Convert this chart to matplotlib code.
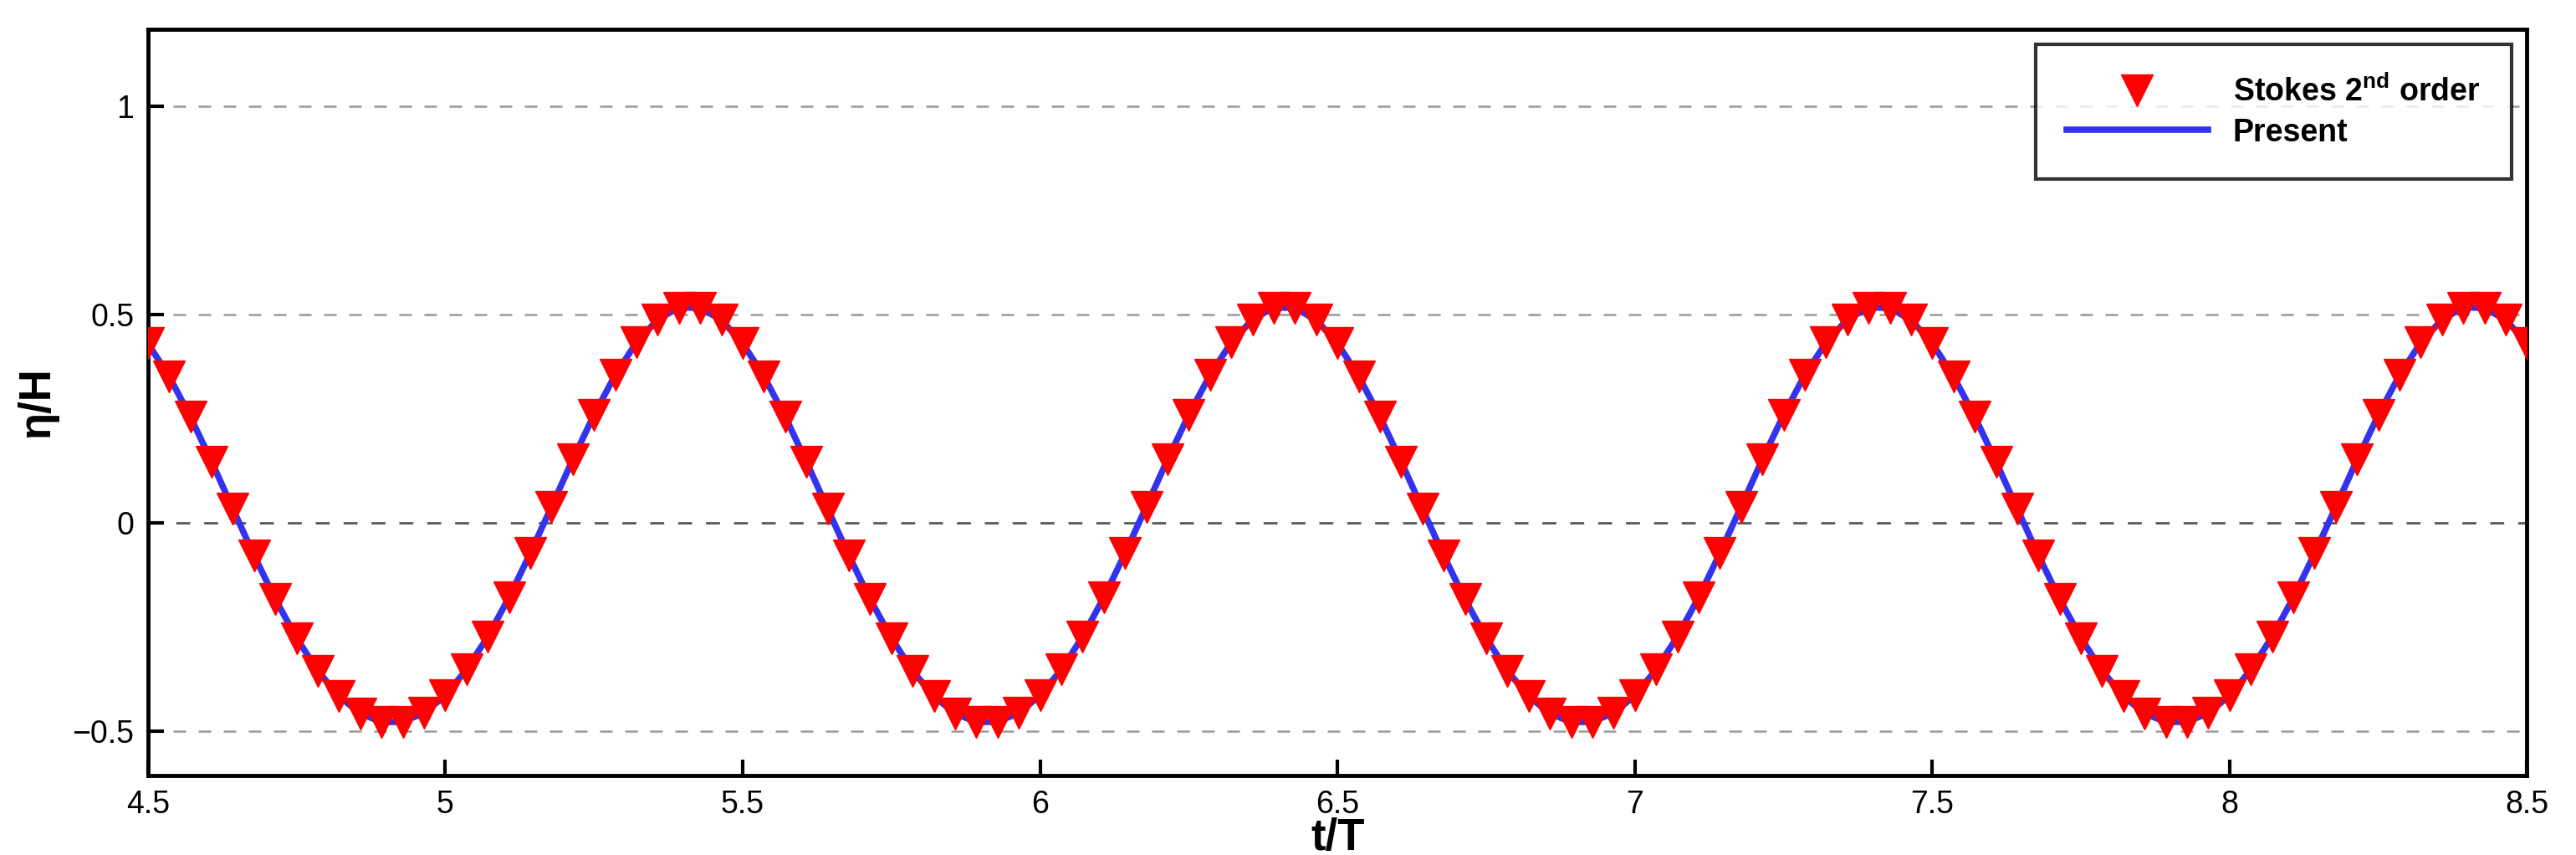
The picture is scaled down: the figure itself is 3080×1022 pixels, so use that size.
import numpy as np
import matplotlib
matplotlib.use("Agg")
import matplotlib.pyplot as plt

plt.rcParams['font.family'] = ['Liberation Sans', 'DejaVu Sans']

# one period of eta/H (28 samples per wave period)
period_vals = [0.431, 0.352, 0.255, 0.147, 0.034, -0.078, -0.183, -0.276,
               -0.355, -0.416, -0.457, -0.478, -0.477, -0.456, -0.414, -0.352,
               -0.273, -0.179, -0.073, 0.039, 0.152, 0.259, 0.355, 0.433,
               0.488, 0.517, 0.516, 0.487]

t_stokes = np.linspace(4.5, 8.5, 113)
eta_stokes = period_vals * 4 + [0.431]

t_present = t_stokes
eta_present = eta_stokes

fig = plt.figure(figsize=(30.8, 10.22), dpi=100)
ax = fig.add_axes([0.0574, 0.093, 0.9236, 0.873])

ax.plot(t_present, eta_present, color="#3333ee", lw=5.5, label="Present", zorder=2)
ax.plot(t_stokes, eta_stokes, 'v', color="red", ms=27, ls='none',
        label="Stokes 2$^{\\mathregular{nd}}$ order", zorder=3)

ax.set_xlim(4.5, 8.5)
ax.set_ylim(-0.606, 1.185)
ax.set_xticks(np.arange(4.5, 8.51, 0.5))
ax.set_xticklabels(["4.5", "5", "5.5", "6", "6.5", "7", "7.5", "8", "8.5"])
ax.set_yticks([-0.5, 0, 0.5, 1])
ax.set_yticklabels(["\u22120.5", "0", "0.5", "1"])
for y in [-0.5, 0.5, 1]:
    ax.axhline(y, color="0.6", ls=(0, (6, 6)), lw=1.8, zorder=1)
ax.axhline(0, color="0.35", ls=(0, (6, 6)), lw=2, zorder=1)

ax.tick_params(direction='in', length=14, width=3, labelsize=27, pad=12)
for s in ax.spines.values():
    s.set_linewidth(3.5)

ax.set_xlabel("t/T", fontsize=38, fontweight='bold', labelpad=-2)
ax.set_ylabel("\u03b7/H", fontsize=38, fontweight='bold', labelpad=12)

h, l = ax.get_legend_handles_labels()
leg = ax.legend(h[::-1], l[::-1], loc="upper right", frameon=True,
                fancybox=False, edgecolor='black', borderpad=1.0,
                handlelength=4.5, labelspacing=0.3,
                prop={'weight': 'bold', 'size': 27})
leg.get_frame().set_linewidth(3)

fig.savefig("out.png", dpi=100)
